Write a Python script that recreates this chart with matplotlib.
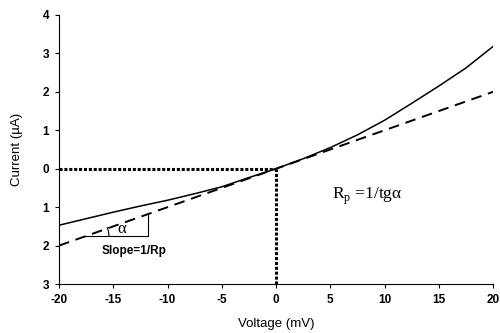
import matplotlib
matplotlib.use("Agg")
import matplotlib.pyplot as plt
import numpy as np

plt.rcParams['font.family'] = ['Liberation Sans', 'DejaVu Sans']

# Data
voltage = [-20, -17.5, -15, -12.5, -10, -7.5, -5, -2.5, 0, 2.5, 5, 7.5, 10, 12.5, 15, 17.5, 20]
current_measured = [-1.47, -1.30, -1.13, -0.97, -0.82, -0.65, -0.47, -0.23, 0.0,
                    0.26, 0.55, 0.88, 1.26, 1.70, 2.15, 2.62, 3.18]
linear_v = [-20, 20]
linear_i = [-2.0, 2.0]
triangle_v = [-17.6, -11.8, -11.8]
triangle_i = [-1.76, -1.76, -1.18]
xticks = [-20, -15, -10, -5, 0, 5, 10, 15, 20]
yticks = [-3, -2, -1, 0, 1, 2, 3, 4]
ytick_labels = ['3', '2', '1', '0', '1', '2', '3', '4']

fig = plt.figure(figsize=(5.0, 3.33), dpi=100)
ax = fig.add_axes([0.118, 0.147, 0.868, 0.808])

ax.plot(voltage, current_measured, color='black', lw=1.1)
ax.plot(linear_v, linear_i, color='black', lw=1.4, dashes=(5.5, 3.5))
ax.plot([-20, 0], [0, 0], color='black', lw=2.2, linestyle=(0, (1, 0.6)))
ax.plot([0, 0], [-3, 0], color='black', lw=2.2, linestyle=(0, (1, 0.6)))

# slope triangle
ax.plot(triangle_v, triangle_i, color='black', lw=0.8)
t = np.radians(np.linspace(0, 22, 20))
ax.plot(triangle_v[0] + 2.2 * np.cos(t), triangle_i[0] + 0.62 * np.sin(t), color='black', lw=0.8)
ax.text(-14.2, -1.58, 'α', family=['Liberation Serif'], fontsize=12, ha='center', va='center')
ax.text(-13.1, -2.14, 'Slope=1/Rp', fontsize=8.5, fontweight='bold', ha='center', va='center')
ax.text(5.2, -0.72, r'R$_{\mathregular{p}}$ =1/tgα', family=['Liberation Serif'], fontsize=12.5,
        ha='left', va='center')

ax.set_xlim(-20, 20)
ax.set_ylim(-3, 4)
ax.set_xticks(xticks)
ax.set_xticklabels([str(t) for t in xticks], fontweight='bold', fontsize=8.5)
ax.set_yticks(yticks)
ax.set_yticklabels(ytick_labels, fontweight='bold', fontsize=8.5)
ax.tick_params(direction='out', length=3, width=0.8, pad=4)
for s in ['top', 'right']:
    ax.spines[s].set_visible(False)
for s in ['left', 'bottom']:
    ax.spines[s].set_linewidth(0.8)
ax.set_xlabel('Voltage (mV)', fontsize=9.5, labelpad=9)
ax.set_ylabel('Current (µA)', fontsize=9.5, labelpad=14)

fig.savefig('out.png', dpi=100)
